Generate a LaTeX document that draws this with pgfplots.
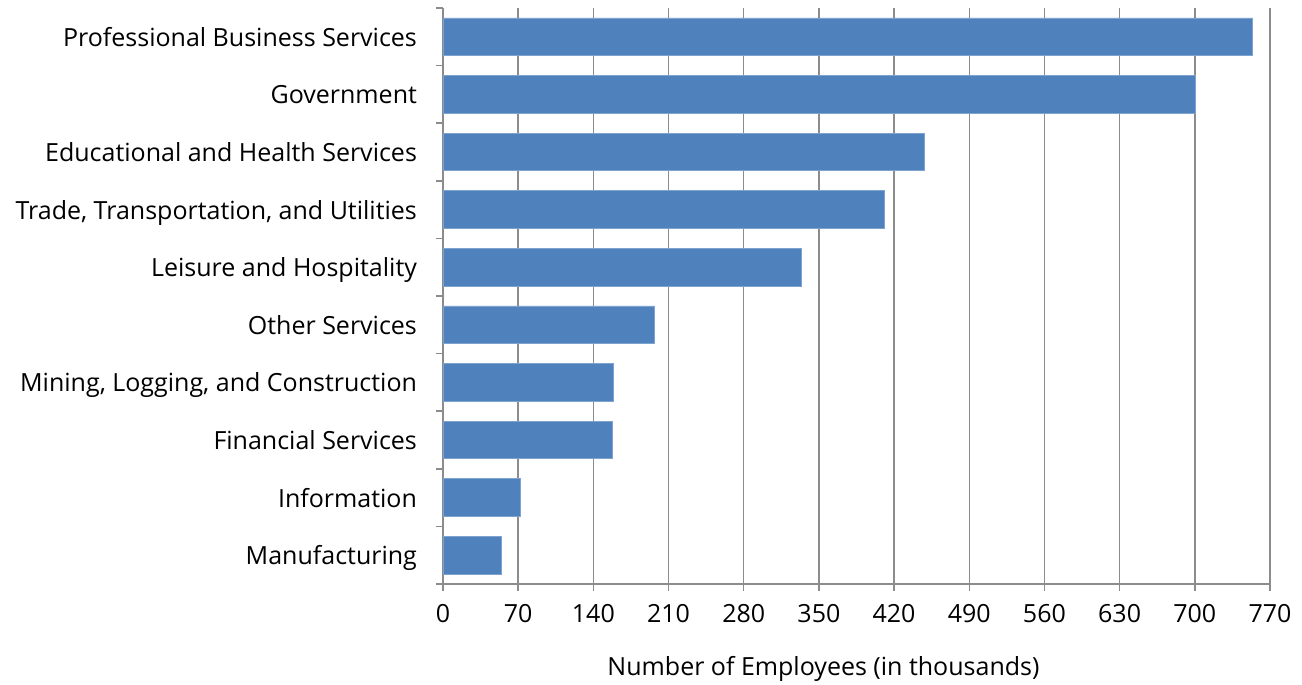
\documentclass[border=0pt]{standalone}
\usepackage{fontspec}
\setmainfont{Open Sans}
\usepackage{pgfplots}
\pgfplotsset{compat=1.18}
\definecolor{barblue}{HTML}{4F81BD}
\definecolor{baredge}{HTML}{7FA3D0}
\definecolor{gridgray}{HTML}{8C8C8C}
\begin{document}
\begin{tikzpicture}
\useasboundingbox (-221.5pt,-50.5pt) rectangle (429.5pt,292pt);
\begin{axis}[
  at={(0pt,0pt)}, anchor=south west,
  scale only axis, width=413.5pt, height=288pt,
  xmin=0, xmax=770, xtick={0,70,...,770},
  ymin=-0.5, ymax=9.5, y dir=reverse,
  ytick={0,...,9},
  yticklabels={Professional Business Services, Government, Educational and Health Services, {Trade, Transportation, and Utilities}, Leisure and Hospitality, Other Services, {Mining, Logging, and Construction}, Financial Services, Information, Manufacturing},
  minor ytick={-0.5,0.5,...,9.5},
  major y tick style={draw=none},
  axis x line=bottom, axis y line=left,
  axis line style={-, gridgray, line width=0.75pt},
  tick align=outside, major tick length=3.5pt, minor tick length=3.5pt,
  tick style={gridgray, line width=0.75pt},
  xmajorgrids, major grid style={gridgray, line width=0.75pt},
  /pgf/number format/assume math mode=true,
  tick label style={font=\fontsize{12.5}{15}\selectfont, black},
  yticklabel style={xshift=-6pt, text height=9.5pt, text depth=0pt},
  xticklabel style={yshift=-3pt},
  xlabel={Number of Employees (in thousands)},
  xlabel style={font=\fontsize{12.5}{15}\selectfont, yshift=-10pt, xshift=-16.5pt},
]
\addplot[xbar, bar width=18.85pt, fill=barblue, draw=baredge, line width=0.4pt]
  coordinates {(754,0) (701,1) (448,2) (411,3) (334,4) (197,5) (159,6) (158,7) (72,8) (54,9)};
\end{axis}
\end{tikzpicture}
\end{document}
